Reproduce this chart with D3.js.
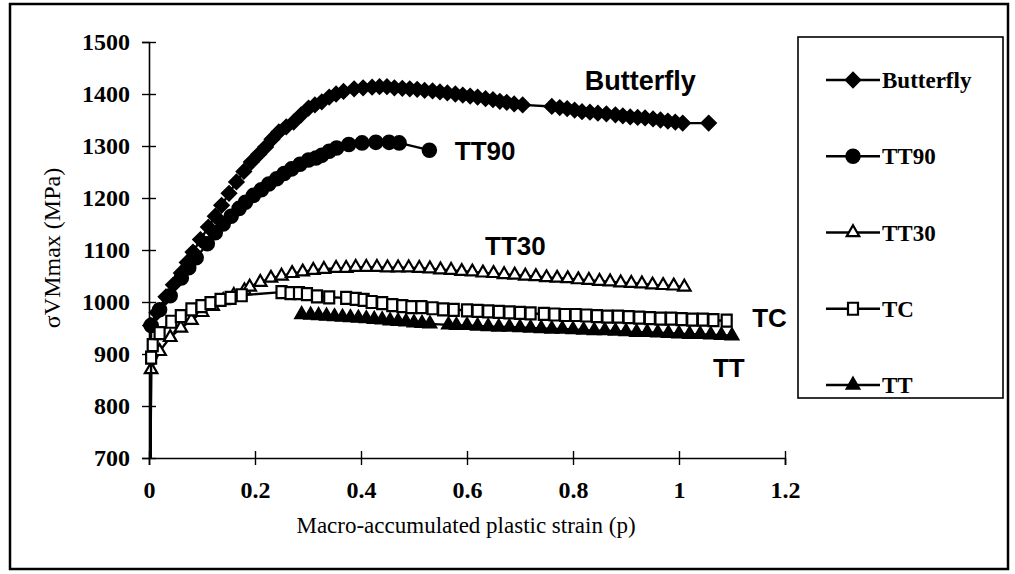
<!DOCTYPE html>
<html>
<head>
<meta charset="utf-8">
<script src="https://cdn.jsdelivr.net/npm/d3@7"></script>
<style>
  body { margin: 0; background: #fff; }
</style>
</head>
<body>
<div id="chart"></div>
<script>
// --- datos (p, sigma VM max en MPa)
const seriesNames = ['Butterfly', 'TT90', 'TT30', 'TC', 'TT'];

const butterflyP = [0.003, 0.003, 0.015, 0.032, 0.046, 0.061, 0.072, 0.083, 0.097, 0.112, 0.125, 0.137, 0.151, 0.165, 0.179, 0.193, 0.207, 0.22, 0.232, 0.245, 0.259, 0.273, 0.287, 0.301, 0.313, 0.326, 0.34, 0.353, 0.367, 0.387, 0.404, 0.421, 0.435, 0.449, 0.463, 0.478, 0.492, 0.506, 0.52, 0.535, 0.549, 0.563, 0.578, 0.592, 0.606, 0.62, 0.635, 0.649, 0.662, 0.675, 0.689, 0.705, 0.76, 0.775, 0.789, 0.803, 0.817, 0.832, 0.847, 0.863, 0.88, 0.894, 0.908, 0.922, 0.936, 0.951, 0.965, 0.979, 0.993, 1.007, 1.056];
const butterflyS = [700, 955, 980, 1010, 1033, 1056, 1076, 1096, 1120, 1144, 1165, 1186, 1209, 1231, 1251, 1269, 1284, 1298, 1313, 1327, 1337, 1346, 1360, 1373, 1379, 1385, 1394, 1400, 1405, 1410, 1412, 1413, 1414, 1414, 1412, 1411, 1410, 1409, 1407, 1406, 1404, 1402, 1400, 1398, 1396, 1394, 1391, 1389, 1386, 1384, 1381, 1379, 1376, 1374, 1372, 1369, 1366, 1365, 1363, 1362, 1360, 1358, 1356, 1355, 1354, 1352, 1350, 1348, 1346, 1344, 1344];

const tt90P = [0.003, 0.004, 0.02, 0.04, 0.061, 0.075, 0.089, 0.11, 0.125, 0.14, 0.155, 0.17, 0.182, 0.197, 0.212, 0.226, 0.241, 0.255, 0.269, 0.285, 0.301, 0.315, 0.326, 0.34, 0.354, 0.377, 0.402, 0.428, 0.453, 0.472, 0.529];
const tt90S = [700, 955, 985, 1012, 1046, 1066, 1085, 1112, 1133, 1150, 1165, 1180, 1192, 1205, 1216, 1227, 1237, 1247, 1256, 1265, 1273, 1277, 1282, 1290, 1296, 1303, 1306, 1307, 1307, 1306, 1292];

const tt30P = [0.003, 0.004, 0.02, 0.04, 0.06, 0.08, 0.1, 0.12, 0.14, 0.16, 0.18, 0.19, 0.21, 0.23, 0.25, 0.27, 0.29, 0.31, 0.33, 0.353, 0.372, 0.39, 0.41, 0.43, 0.45, 0.47, 0.49, 0.51, 0.53, 0.55, 0.57, 0.59, 0.61, 0.63, 0.65, 0.67, 0.69, 0.71, 0.73, 0.75, 0.77, 0.79, 0.81, 0.83, 0.85, 0.87, 0.89, 0.91, 0.93, 0.95, 0.97, 0.99, 1.01];
const tt30S = [700, 870, 905, 932, 950, 965, 980, 992, 1003, 1013, 1022, 1029, 1038, 1046, 1050, 1055, 1058, 1061, 1063, 1065, 1065, 1067, 1067, 1067, 1066, 1066, 1066, 1065, 1064, 1062, 1061, 1059, 1058, 1056, 1055, 1053, 1052, 1050, 1049, 1047, 1046, 1045, 1043, 1042, 1040, 1039, 1037, 1036, 1035, 1033, 1032, 1031, 1029];

const tcP = [0.003, 0.004, 0.007, 0.02, 0.042, 0.06, 0.08, 0.099, 0.116, 0.135, 0.154, 0.175, 0.25, 0.267, 0.283, 0.298, 0.317, 0.34, 0.372, 0.39, 0.405, 0.42, 0.44, 0.459, 0.478, 0.495, 0.514, 0.535, 0.555, 0.575, 0.6, 0.62, 0.64, 0.66, 0.68, 0.7, 0.72, 0.745, 0.765, 0.785, 0.805, 0.825, 0.845, 0.865, 0.885, 0.905, 0.925, 0.945, 0.965, 0.985, 1.005, 1.025, 1.045, 1.065, 1.09];
const tcS = [700, 893, 917, 940, 962, 973, 986, 992, 998, 1004, 1008, 1013, 1019, 1017, 1017, 1015, 1011, 1009, 1008, 1006, 1004, 1000, 998, 994, 992, 990, 990, 988, 986, 985, 984, 983, 982, 981, 980, 979, 978, 977, 976, 975, 975, 974, 973, 972, 972, 971, 970, 969, 968, 968, 967, 966, 966, 965, 964];

const ttP = [0.288, 0.305, 0.32, 0.335, 0.35, 0.365, 0.38, 0.395, 0.41, 0.425, 0.44, 0.455, 0.47, 0.485, 0.5, 0.515, 0.53, 0.565, 0.58, 0.6, 0.62, 0.64, 0.66, 0.68, 0.7, 0.72, 0.74, 0.76, 0.78, 0.8, 0.82, 0.84, 0.86, 0.88, 0.9, 0.92, 0.94, 0.96, 0.98, 1.0, 1.02, 1.04, 1.06, 1.08, 1.1];
const ttS = [976, 975, 974, 973, 972, 971, 970, 969, 968, 967, 966, 964, 963, 962, 960, 959, 958, 956, 955, 955, 954, 953, 952, 952, 951, 950, 949, 948, 948, 947, 946, 945, 945, 944, 943, 942, 942, 941, 940, 939, 938, 938, 937, 936, 935];

const xTicks = [0, 0.2, 0.4, 0.6, 0.8, 1, 1.2];
const yTicks = [700, 800, 900, 1000, 1100, 1200, 1300, 1400, 1500];

// etiquetas dentro de la grafica (posicion en unidades de datos)
const labelText = ['Butterfly', 'TT90', 'TT30', 'TC', 'TT'];
const labelP = [0.822, 0.577, 0.634, 1.138, 1.064];
const labelS = [1408, 1273, 1090, 952, 856];

// --- Grafica
const width = 1015, height = 574;
const x = d3.scaleLinear().domain([0, 1.2]).range([149, 785]);
const y = d3.scaleLinear().domain([700, 1500]).range([458, 42]);

const series = [
  { name: seriesNames[0], p: butterflyP, s: butterflyS, symbol: 'diamond', fill: '#000' },
  { name: seriesNames[1], p: tt90P, s: tt90S, symbol: 'circle', fill: '#000' },
  { name: seriesNames[2], p: tt30P, s: tt30S, symbol: 'triangle', fill: '#fff' },
  { name: seriesNames[3], p: tcP, s: tcS, symbol: 'square', fill: '#fff' },
  { name: seriesNames[4], p: ttP, s: ttS, symbol: 'triangle', fill: '#000' }
];

const symbolPath = (kind) => {
  if (kind === 'diamond') return d3.symbol().type(d3.symbolSquare).size(100)();
  if (kind === 'circle') return d3.symbol().type(d3.symbolCircle).size(140)();
  if (kind === 'triangle') return d3.symbol().type(d3.symbolTriangle).size(68)();
  return 'M-5,-6H5V6H-5Z';
};
const symbolRot = (kind) => kind === 'diamond' ? ' rotate(45)' : '';

const svg = d3.select('#chart')
              .append('svg')
              .attr('width', width)
              .attr('height', height)
              .style('font-family', '"Liberation Serif", "Times New Roman", serif');

svg.append('rect')
   .attr('width', width).attr('height', height)
   .attr('fill', '#fff');

// marco exterior
svg.append('rect')
   .attr('x', 10).attr('y', 4)
   .attr('width', 998).attr('height', 565)
   .attr('fill', 'none')
   .attr('stroke', '#000')
   .attr('stroke-width', 2.5);

// ejes
const yAxis = svg.append('g')
                 .attr('transform', `translate(${x(0)},0)`)
                 .call(d3.axisLeft(y).tickValues(yTicks).tickSize(7).tickPadding(12).tickFormat(d3.format('d')));
const xAxis = svg.append('g')
                 .attr('transform', `translate(0,${y(700)})`)
                 .call(d3.axisBottom(x).tickValues(xTicks).tickSize(7).tickPadding(16).tickFormat(d => d3.format('~g')(d)));

yAxis.selectAll('.tick line').attr('x1', 7).attr('x2', -7);
xAxis.selectAll('.tick line').attr('y1', -7).attr('y2', 7);
[yAxis, xAxis].forEach(a => {
  a.select('.domain').attr('stroke', '#000').attr('stroke-width', 1.6);
  a.selectAll('.tick line').attr('stroke', '#000').attr('stroke-width', 1.4);
  a.selectAll('.tick text')
   .attr('fill', '#000')
   .style('font-family', '"Liberation Serif", "Times New Roman", serif')
   .style('font-size', '24px')
   .style('font-weight', 'bold');
});

// titulos de ejes
svg.append('text')
   .attr('x', 466).attr('y', 533)
   .attr('text-anchor', 'middle')
   .style('font-size', '23px')
   .text('Macro-accumulated plastic strain (p)');

svg.append('text')
   .attr('transform', 'translate(60,248) rotate(-90)')
   .attr('text-anchor', 'middle')
   .style('font-size', '24px')
   .text('σVMmax (MPa)');

// series
const plot = svg.append('g').attr('class', 'group');
plot.append('clipPath').attr('id', 'clip')
    .append('rect').attr('x', 140).attr('y', 30).attr('width', 660).attr('height', 428);

const line = d3.line().x(d => x(d[0])).y(d => y(d[1]));

series.forEach(sr => {
  const pts = sr.p.map((p, i) => [p, sr.s[i]]);
  plot.append('path')
      .attr('d', line(pts))
      .attr('clip-path', 'url(#clip)')
      .attr('fill', 'none')
      .attr('stroke', '#000')
      .attr('stroke-width', 2.4);
  plot.selectAll(null)
      .data(pts.filter(d => d[1] > 700))
      .enter()
      .append('path')
      .attr('d', symbolPath(sr.symbol))
      .attr('transform', d => `translate(${x(d[0])},${y(d[1])})${symbolRot(sr.symbol)}`)
      .attr('fill', sr.fill)
      .attr('stroke', '#000')
      .attr('stroke-width', 2.2);
});

// etiquetas en la grafica
plot.selectAll('text.lbl')
    .data(labelText)
    .enter()
    .append('text')
    .attr('class', 'lbl')
    .attr('x', (d, i) => x(labelP[i]))
    .attr('y', (d, i) => y(labelS[i]))
    .style('font-family', '"Liberation Sans", Arial, sans-serif')
    .style('font-weight', 'bold')
    .style('font-size', (d, i) => i === 0 ? '27px' : '26px')
    .text(d => d);

// leyenda
const legend = svg.append('g');
legend.append('rect')
      .attr('x', 798).attr('y', 37)
      .attr('width', 205).attr('height', 361)
      .attr('fill', '#fff')
      .attr('stroke', '#000')
      .attr('stroke-width', 1.6);

const legendY = d3.scalePoint().domain(seriesNames).range([80, 385]);
const items = legend.selectAll('g.item')
                    .data(series)
                    .enter()
                    .append('g')
                    .attr('class', 'item')
                    .attr('transform', d => `translate(0,${legendY(d.name)})`);
items.append('line')
     .attr('x1', 826).attr('x2', 880)
     .attr('stroke', '#000').attr('stroke-width', 2.4);
items.append('path')
     .attr('d', d => symbolPath(d.symbol))
     .attr('transform', d => `translate(853,0)${symbolRot(d.symbol)}`)
     .attr('fill', d => d.fill)
     .attr('stroke', '#000')
     .attr('stroke-width', 2.2);
items.append('text')
     .attr('x', 882).attr('y', 0)
     .attr('dy', '0.35em')
     .style('font-size', '23px')
     .style('font-weight', 'bold')
     .text(d => d.name);
</script>
</body>
</html>
